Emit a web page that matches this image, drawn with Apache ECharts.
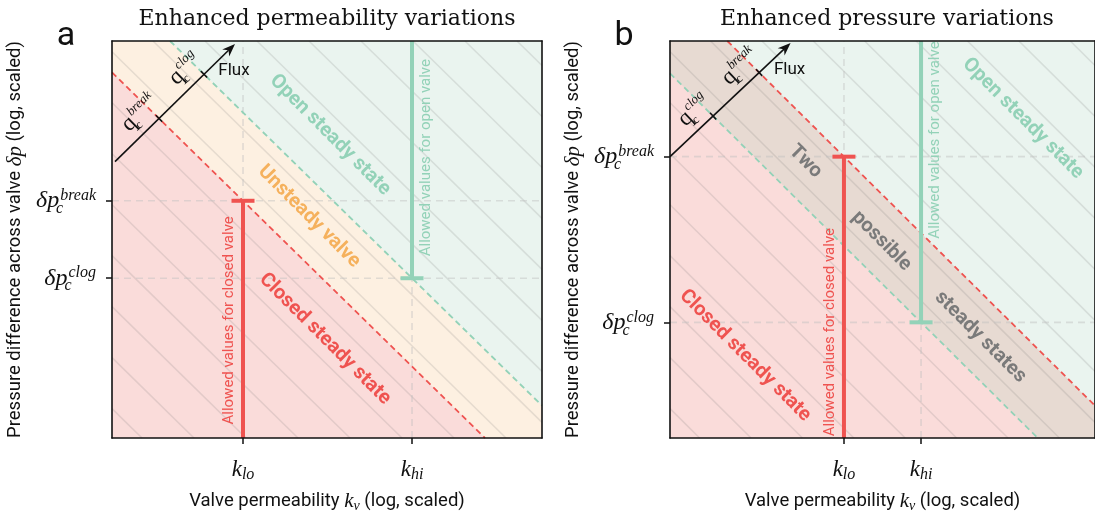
<!DOCTYPE html>
<html><head><meta charset="utf-8">
<script src="https://cdn.jsdelivr.net/npm/echarts@6/dist/echarts.min.js"></script>
<style>html,body{margin:0;padding:0;background:#fff}#c{width:1095px;height:518px}</style>
</head><body><div id="c"></div>
<script>
// ---------- data (log-scaled, arbitrary units) ----------
const X_MAX = 4.3, Y_MAX = 4.05;
const kTickNames = ['lo', 'hi'];
const pTickNames = ['break', 'clog'];
// panel a
const aKTicks = [1.31, 3.00];          // k_lo, k_hi
const aPTicks = [2.42, 1.63];          // dp_break, dp_clog
const aFlux = [0.03, 2.82, 1.23, 4.02]; // start x,y  end x,y
// panel b
const bKTicks = [1.76, 2.54];
const bPTicks = [2.87, 1.18];
const bFlux = [0.00, 2.87, 1.22, 4.03];
// background hatch levels (x + y = c)
const hatchLevels = [0.30, 0.82, 1.34, 1.86, 2.38, 2.90, 3.42, 3.94, 4.46, 4.98, 5.50, 6.02, 6.54, 7.06, 7.58, 8.10];

// ---------- style ----------
const RED = '#ef5350', GREEN = '#93d2b8', ORANGE = '#f5b15d', GRAY = '#7a7a7a';
const PINK = '#fadcda', PEACH = '#fdf0e1', MINT = '#eaf4ef', TAUPE = '#e7dad2';
const SANS = 'Roboto', SERIF = 'Liberation Serif';

const panels = [
  {
    grid: {left: 112, top: 41, width: 430, height: 405},
    title: 'Enhanced permeability variations', letter: 'a',
    k: aKTicks, p: aPTicks, flux: aFlux,
    regions: [['break', PEACH], ['clog', MINT]],
    thresholdColors: {break: RED, clog: GREEN},
    allowedY: [1.20, 2.86],
    notes: [
      {text: 'Open steady state', at: [2.18, 3.09], color: GREEN},
      {text: 'Unsteady valve', at: [1.97, 2.26], color: ORANGE},
      {text: 'Closed steady state', at: [2.13, 1.01], color: RED}
    ]
  },
  {
    grid: {left: 670, top: 41, width: 430, height: 405},
    title: 'Enhanced pressure variations', letter: 'b',
    k: bKTicks, p: bPTicks, flux: bFlux,
    regions: [['clog', TAUPE], ['break', MINT]],
    thresholdColors: {break: RED, clog: GREEN},
    allowedY: [1.08, 3.04],
    notes: [
      {text: 'Two', at: [1.37, 2.82], color: GRAY},
      {text: 'possible', at: [2.14, 2.01], color: GRAY},
      {text: 'steady states', at: [3.14, 1.03], color: GRAY},
      {text: 'Open steady state', at: [3.57, 3.26], color: GREEN},
      {text: 'Closed steady state', at: [0.76, 0.84], color: RED}
    ]
  }
];

// ---------- helpers ----------
function halfPlane(c) {
  const box = [[0, 0], [X_MAX, 0], [X_MAX, Y_MAX], [0, Y_MAX]];
  const out = [];
  for (let i = 0; i < 4; i++) {
    const p = box[i], q = box[(i + 1) % 4];
    const fp = p[0] + p[1] - c, fq = q[0] + q[1] - c;
    if (fp >= 0) out.push(p);
    if ((fp >= 0) !== (fq >= 0)) {
      const t = fp / (fp - fq);
      out.push([p[0] + t * (q[0] - p[0]), p[1] + t * (q[1] - p[1])]);
    }
  }
  return out;
}
function diag(c) {
  const x1 = Math.max(0, c - Y_MAX), x2 = Math.min(X_MAX, c);
  if (x1 >= x2) return null;
  return [[x1, c - x1], [x2, c - x2]];
}
function nearestIdx(arr, v) {
  let b = 0;
  arr.forEach((a, i) => { if (Math.abs(a - v) < Math.abs(arr[b] - v)) b = i; });
  return b;
}
const serifIt = (size, extra) => Object.assign({fontFamily: SERIF, fontStyle: 'italic', fontSize: size, color: '#111'}, extra || {});

const xAxis = [], yAxis = [], grid = [], series = [], graphic = [];

panels.forEach((P, pi) => {
  grid.push(P.grid);
  const thr = {break: P.k[0] + P.p[0], clog: P.k[1] + P.p[1]};
  const axLine = {show: true, onZero: false, lineStyle: {color: '#111', width: 1.6}};
  xAxis.push({
    type: 'value', gridIndex: pi, min: 0, max: X_MAX, z: 10,
    axisLine: axLine,
    axisTick: {show: true, customValues: P.k, length: 6, lineStyle: {color: '#111', width: 1.5}},
    axisLabel: {
      show: true, customValues: P.k, margin: 19,
      formatter: v => `{k|k}{s|${kTickNames[nearestIdx(P.k, v)]}}`,
      rich: {
        k: serifIt(23, {lineHeight: 26, verticalAlign: 'middle'}),
        s: serifIt(16, {lineHeight: 16, verticalAlign: 'bottom'})
      }
    },
    splitLine: {show: false},
    name: 'Valve permeability {k|k}{v|v} (log, scaled)',
    nameLocation: 'middle', nameGap: 51,
    nameTextStyle: {
      fontFamily: SANS, fontSize: 18.5, color: '#111',
      rich: {
        k: serifIt(21, {lineHeight: 24, verticalAlign: 'middle'}),
        v: serifIt(14, {lineHeight: 14, verticalAlign: 'bottom'})
      }
    }
  });
  xAxis.push({
    type: 'value', gridIndex: pi, min: 0, max: X_MAX, position: 'top', z: 10,
    axisLine: axLine, axisTick: {show: false}, axisLabel: {show: false}, splitLine: {show: false}
  });
  yAxis.push({
    type: 'value', gridIndex: pi, min: 0, max: Y_MAX, z: 10,
    axisLine: axLine,
    axisTick: {show: true, customValues: P.p, length: 6, lineStyle: {color: '#111', width: 1.5}},
    axisLabel: {
      show: true, customValues: P.p, margin: 16,
      formatter: v => `{d|δp}{c|c}{s|${pTickNames[nearestIdx(P.p, v)]}}`,
      rich: {
        d: serifIt(24, {lineHeight: 32, verticalAlign: 'middle'}),
        c: serifIt(16, {lineHeight: 16, verticalAlign: 'bottom', width: 1, align: 'left'}),
        s: serifIt(16, {lineHeight: 16, verticalAlign: 'top', padding: [3, 0, 0, 0]})
      }
    },
    splitLine: {show: false},
    name: 'Pressure difference across valve {d|δp} (log, scaled)',
    nameLocation: 'middle', nameGap: 85,
    nameTextStyle: {
      fontFamily: SANS, fontSize: 18.5, color: '#111',
      rich: {d: serifIt(21, {lineHeight: 24, verticalAlign: 'middle'})}
    }
  });
  yAxis.push({
    type: 'value', gridIndex: pi, min: 0, max: Y_MAX, position: 'right', z: 10,
    axisLine: axLine, axisTick: {show: false}, axisLabel: {show: false}, splitLine: {show: false}
  });

  const base = {type: 'custom', xAxisIndex: pi * 2, yAxisIndex: pi * 2, silent: true, animation: false};

  // background full box (pink)
  series.push(Object.assign({}, base, {
    z: 1, data: [[-100]],
    renderItem: (params, api) => ({
      type: 'polygon', shape: {points: halfPlane(api.value(0)).map(pt => api.coord(pt))},
      style: {fill: PINK}
    })
  }));
  // regions
  series.push(Object.assign({}, base, {
    z: 1, data: P.regions.map(r => [thr[r[0]]]),
    renderItem: (params, api) => ({
      type: 'polygon', shape: {points: halfPlane(api.value(0)).map(pt => api.coord(pt))},
      style: {fill: P.regions[params.dataIndex][1]}
    })
  }));
  // hatch
  series.push(Object.assign({}, base, {
    z: 2, data: hatchLevels.map(c => [c]),
    renderItem: (params, api) => {
      const seg = diag(api.value(0));
      if (!seg) return null;
      const A = api.coord(seg[0]), B = api.coord(seg[1]);
      return {type: 'line', shape: {x1: A[0], y1: A[1], x2: B[0], y2: B[1]},
        style: {stroke: 'rgba(110,110,110,0.17)', lineWidth: 1.6}};
    }
  }));
  // dashed grid lines at ticks
  series.push(Object.assign({}, base, {
    z: 3, data: P.k.map(v => [v]),
    renderItem: (params, api) => {
      const A = api.coord([api.value(0), 0]), B = api.coord([api.value(0), Y_MAX]);
      return {type: 'line', shape: {x1: A[0], y1: A[1], x2: B[0], y2: B[1]},
        style: {stroke: 'rgba(190,190,190,0.45)', lineWidth: 1.6, lineDash: [7, 5]}};
    }
  }));
  series.push(Object.assign({}, base, {
    z: 3, data: P.p.map(v => [0, v]),
    renderItem: (params, api) => {
      const A = api.coord([0, api.value(1)]), B = api.coord([X_MAX, api.value(1)]);
      return {type: 'line', shape: {x1: A[0], y1: A[1], x2: B[0], y2: B[1]},
        style: {stroke: 'rgba(190,190,190,0.45)', lineWidth: 1.6, lineDash: [7, 5]}};
    }
  }));
  // thresholds (dashed)
  const thrKeys = ['break', 'clog'];
  series.push(Object.assign({}, base, {
    z: 4, data: thrKeys.map(k => [thr[k]]),
    renderItem: (params, api) => {
      const seg = diag(api.value(0));
      if (!seg) return null;
      const A = api.coord(seg[0]), B = api.coord(seg[1]);
      return {type: 'line', shape: {x1: A[0], y1: A[1], x2: B[0], y2: B[1]},
        style: {stroke: P.thresholdColors[thrKeys[params.dataIndex]], lineWidth: 1.8, lineDash: [6, 4]}};
    }
  }));
  // allowed-value bars
  series.push(Object.assign({}, base, {
    z: 5, data: [[P.k[0], P.p[0]], [P.k[1], P.p[1]]],
    renderItem: (params, api) => {
      const i = params.dataIndex;
      const x = api.value(0), yEnd = api.value(1);
      const yStart = i === 0 ? 0 : Y_MAX;
      const A = api.coord([x, yStart]), B = api.coord([x, yEnd]);
      const C = api.coord([x, P.allowedY[i]]);
      const color = i === 0 ? RED : GREEN;
      return {type: 'group', children: [
        {type: 'line', shape: {x1: A[0], y1: A[1], x2: B[0], y2: B[1]}, style: {stroke: color, lineWidth: 4}},
        {type: 'line', shape: {x1: B[0] - 11.5, y1: B[1], x2: B[0] + 11.5, y2: B[1]}, style: {stroke: color, lineWidth: 4}},
        {type: 'text', x: C[0] + (i === 0 ? -14 : 14), y: C[1], rotation: Math.PI / 2,
          style: {text: i === 0 ? 'Allowed values for closed valve' : 'Allowed values for open valve',
            fill: color, fontFamily: SANS, fontSize: 15, align: 'center', verticalAlign: 'middle'}}
      ]};
    }
  }));
  // flux arrow
  series.push(Object.assign({}, base, {
    z: 6, data: [P.flux],
    renderItem: (params, api) => {
      const s = [api.value(0), api.value(1)], e = [api.value(2), api.value(3)];
      const P0 = api.coord(s), P1 = api.coord(e);
      const dx = P1[0] - P0[0], dy = P1[1] - P0[1], L = Math.hypot(dx, dy);
      const ux = dx / L, uy = dy / L;
      const vx = uy, vy = -ux; // perpendicular (up-left)
      const notch = [P1[0] - ux * 9, P1[1] - uy * 9];
      const back = [P1[0] - ux * 13, P1[1] - uy * 13];
      const kids = [
        {type: 'line', shape: {x1: P0[0], y1: P0[1], x2: notch[0], y2: notch[1]}, style: {stroke: '#111', lineWidth: 1.6}},
        {type: 'polygon', shape: {points: [P1, [back[0] + vx * 5, back[1] + vy * 5], notch, [back[0] - vx * 5, back[1] - vy * 5]]},
          style: {fill: '#111'}},
        {type: 'text', x: P1[0] - 1, y: P1[1] + 27,
          style: {text: 'Flux', fill: '#111', fontFamily: SANS, fontSize: 17, align: 'center', verticalAlign: 'middle'}}
      ];
      const rot = Math.atan2(-uy, ux);
      ['break', 'clog'].forEach(key => {
        const c = thr[key];
        const t = (c - s[0] - s[1]) / (e[0] - s[0] + e[1] - s[1]);
        const T = api.coord([s[0] + t * (e[0] - s[0]), s[1] + t * (e[1] - s[1])]);
        kids.push({type: 'line', shape: {x1: T[0] + vx * 4.5, y1: T[1] + vy * 4.5, x2: T[0] - vx * 4.5, y2: T[1] - vy * 4.5},
          style: {stroke: '#111', lineWidth: 1.6}});
        kids.push({type: 'text', x: T[0] - ux * 10 + vx * 17, y: T[1] - uy * 10 + vy * 17, rotation: rot,
          style: {text: `{q|q}{c|c}{s|${key}}`, align: 'center', verticalAlign: 'middle',
            rich: {
              q: {fontFamily: SERIF, fontSize: 23, lineHeight: 28, verticalAlign: 'middle', fill: '#111'},
              c: {fontFamily: SERIF, fontSize: 12, lineHeight: 12, verticalAlign: 'bottom', width: 1, align: 'left', fill: '#111'},
              s: {fontFamily: SERIF, fontStyle: 'italic', fontSize: 13, lineHeight: 13, verticalAlign: 'top', fill: '#111'}
            }}});
      });
      return {type: 'group', children: kids};
    }
  }));
  // region annotations
  series.push(Object.assign({}, base, {
    z: 6, data: P.notes.map(n => n.at),
    renderItem: (params, api) => {
      const n = P.notes[params.dataIndex];
      const C = api.coord([api.value(0), api.value(1)]);
      return {type: 'text', x: C[0], y: C[1], rotation: -Math.PI / 4,
        style: {text: n.text, fill: n.color, fontFamily: SANS, fontWeight: 'bold', fontSize: 20,
          align: 'center', verticalAlign: 'middle'}};
    }
  }));

  const cx = P.grid.left + P.grid.width / 2;
  graphic.push({type: 'text', x: pi === 0 ? cx : 887, y: 19,
    style: {text: P.title, fill: '#111', font: '22px "DejaVu Serif"', align: 'center', verticalAlign: 'middle'}});
  graphic.push({type: 'text', x: pi === 0 ? 66 : 624, y: 36,
    style: {text: P.letter, fill: '#111', font: '34px Roboto', align: 'center', verticalAlign: 'middle'}});
});

const chart = echarts.init(document.getElementById('c'), null, {renderer: 'canvas'});
chart.setOption({
  animation: false,
  backgroundColor: '#fff',
  grid, xAxis, yAxis, series, graphic
});
</script>
</body></html>
